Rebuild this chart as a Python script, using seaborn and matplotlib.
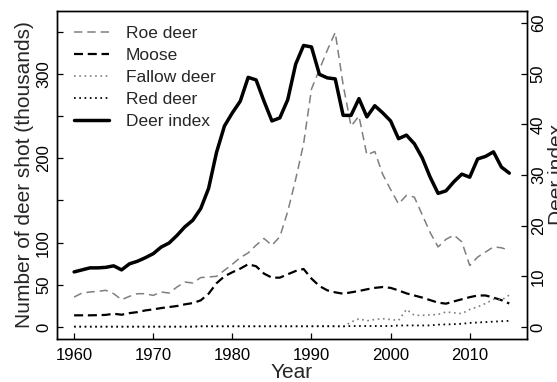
import matplotlib
matplotlib.use("Agg")
import matplotlib.pyplot as plt
import pandas as pd
import seaborn as sns

sns.set_style("white")
plt.rcParams['font.family'] = ['Liberation Sans', 'DejaVu Sans']
plt.rcParams['lines.scale_dashes'] = False

years = list(range(1960, 2016))

# Annual harvest, thousands of animals
roe_deer = [35.6, 40.4, 41.6, 42.4, 43.6, 39.6, 32.5, 36.5, 39.6, 39.6,
            37.6, 41.6, 40.4, 47.5, 53.4, 52.3, 58.7, 59.4, 60.2, 67.3,
            74.5, 82.4, 87.9, 97.0, 105.0, 97.0, 107.0, 137.0, 175.0, 217.0,
            282.0, 305.0, 328.0, 349.0, 287.0, 238.0, 250.0, 204.0, 208.0, 181.0,
            163.0, 146.0, 156.0, 154.0, 133.0, 112.0, 95.0, 104.0, 109.0, 101.0,
            73.0, 83.0, 89.0, 95.0, 94.0, 91.0]
moose = [14.0, 14.0, 14.0, 14.2, 14.5, 15.9, 14.7, 16.6, 17.8, 19.8,
         21.0, 22.6, 23.8, 25.0, 27.0, 28.5, 31.7, 39.6, 52.0, 60.2,
         65.0, 69.3, 74.5, 72.1, 63.4, 58.6, 58.6, 62.6, 66.5, 68.9,
         57.5, 48.7, 43.6, 41.2, 39.6, 41.2, 42.8, 44.8, 46.5, 47.5,
         46.5, 43.5, 40.0, 37.5, 35.0, 32.0, 29.0, 27.8, 30.5, 33.0,
         35.5, 37.5, 37.5, 35.0, 32.0, 28.0]
fallow_deer = [0.5, 0.5, 0.5, 0.5, 0.5, 0.5, 0.5, 0.5, 0.5, 0.5,
               0.5, 0.5, 0.5, 0.5, 0.5, 0.5, 1.0, 1.0, 1.0, 1.0,
               1.0, 1.0, 1.0, 1.0, 1.0, 1.0, 1.0, 1.0, 1.0, 1.0,
               1.0, 1.5, 1.5, 1.5, 0.3, 6.0, 10.0, 7.5, 9.0, 10.0,
               9.0, 8.0, 21.0, 14.0, 14.0, 14.5, 15.0, 18.0, 17.0, 16.0,
               21.0, 24.0, 28.0, 33.0, 32.0, 38.0]
red_deer = [0.6, 0.6, 0.6, 0.6, 0.6, 0.6, 0.6, 0.6, 0.6, 0.6,
            0.6, 0.6, 0.6, 0.6, 0.6, 0.6, 1.0, 1.0, 1.0, 1.0,
            1.0, 1.0, 1.0, 1.0, 1.0, 1.0, 1.0, 1.0, 1.0, 1.0,
            1.0, 1.0, 1.0, 1.0, 1.0, 1.3, 1.3, 1.3, 1.3, 1.3,
            1.3, 2.0, 2.0, 2.0, 2.0, 2.0, 3.0, 3.2, 3.5, 4.0,
            5.0, 5.5, 6.0, 6.5, 7.0, 7.5]
# Combined deer index (right axis)
deer_index = [10.9, 11.3, 11.7, 11.7, 11.8, 12.1, 11.3, 12.5, 13.0, 13.7,
              14.5, 15.8, 16.6, 18.1, 19.8, 21.1, 23.4, 27.4, 34.5, 39.7,
              42.3, 44.6, 49.3, 48.8, 44.6, 40.7, 41.3, 44.9, 51.9, 55.6,
              55.3, 49.9, 49.2, 49.0, 41.8, 41.8, 45.1, 41.5, 43.7, 42.3,
              40.7, 37.2, 37.9, 36.2, 33.4, 29.6, 26.4, 26.9, 28.7, 30.2,
              29.6, 33.2, 33.7, 34.6, 31.6, 30.4]

left_ticks = [0, 50, 100, 150, 200, 250, 300, 350]
left_tick_labels = ["0", "50", "100", "", "200", "", "300", ""]
right_ticks = [0, 10, 20, 30, 40, 50, 60]
x_ticks = [1960, 1970, 1980, 1990, 2000, 2010]

df = pd.DataFrame({"Year": years, "Roe deer": roe_deer, "Moose": moose,
                   "Fallow deer": fallow_deer, "Red deer": red_deer,
                   "Deer index": deer_index})

GRAY = "#7f7f7f"

W, H = 557, 382
fig = plt.figure(figsize=(W / 100, H / 100), dpi=100)
x0, x1, y0, y1 = 56.7, 526.7, 11.0, 339.3
ax = fig.add_axes([x0 / W, 1 - y1 / H, (x1 - x0) / W, (y1 - y0) / H])
ax2 = ax.twinx()

sns.lineplot(data=df, x="Year", y="Roe deer", ax=ax, color=GRAY, lw=1.1,
             linestyle=(0, (6.0, 3.6)), label="Roe deer", legend=False)
sns.lineplot(data=df, x="Year", y="Moose", ax=ax, color="black", lw=1.6,
             linestyle=(0, (6.5, 3.4)), label="Moose", legend=False)
sns.lineplot(data=df, x="Year", y="Fallow deer", ax=ax, color=GRAY, lw=1.2,
             linestyle=(0, (1.2, 2.6)), label="Fallow deer", legend=False)
sns.lineplot(data=df, x="Year", y="Red deer", ax=ax, color="black", lw=1.3,
             linestyle=(0, (1.2, 2.6)), label="Red deer", legend=False)
sns.lineplot(data=df, x="Year", y="Deer index", ax=ax2, color="black", lw=2.5,
             label="Deer index", legend=False)
for ln in ax2.get_lines():
    ln.set_solid_joinstyle("round")

ax.set_xlim(1957.8, 2017.2)
ax.set_ylim(-14.4, 374.4)
ax2.set_ylim(-2.4, 62.4)

ax.set_xticks(x_ticks)
ax.set_xticklabels([str(t) for t in x_ticks])
ax.set_yticks(left_ticks)
ax.set_yticklabels(left_tick_labels)
ax2.set_yticks(right_ticks)
ax2.set_yticklabels([str(t) for t in right_ticks])

ax.set_xlabel("")
ax.set_ylabel("")
ax2.set_ylabel("")

ax.tick_params(axis="x", direction="in", length=4.5, width=0.9, bottom=True,
               labelsize=12, pad=6, colors="black")
ax.tick_params(axis="y", direction="in", length=4.5, width=0.9, left=True,
               right=False, labelsize=12, pad=4, colors="black")
ax2.tick_params(axis="y", direction="in", length=4.5, width=0.9, right=True,
                labelsize=12, pad=3, colors="black")
for lbl in ax.get_yticklabels() + ax2.get_yticklabels():
    lbl.set_rotation(90)
    lbl.set_va("center")

for a in (ax, ax2):
    for sp in a.spines.values():
        sp.set_color("black")
        sp.set_linewidth(1.0)

fig.text(25 / W, 1 - 175 / H, "Number of deer shot (thousands)", rotation=90,
         ha="center", va="center", fontsize=15)
fig.text(548 / W, 1 - 174 / H, "Deer index", rotation=90,
         ha="left", va="center", fontsize=15)
fig.text(291.7 / W, 1 - 372 / H, "Year", ha="center", va="center", fontsize=15)

handles = ax.get_lines()[:4] + ax2.get_lines()[:1]
labels = ["Roe deer", "Moose", "Fallow deer", "Red deer", "Deer index"]
ax2.legend(handles, labels, loc="upper left",
           bbox_to_anchor=(74 / W, 1 - 25.5 / H), bbox_transform=fig.transFigure,
           frameon=False, fontsize=12.5, handlelength=2.0, handletextpad=1.0,
           labelspacing=0.40, borderaxespad=0, borderpad=0)

fig.savefig("out.png", dpi=100)
